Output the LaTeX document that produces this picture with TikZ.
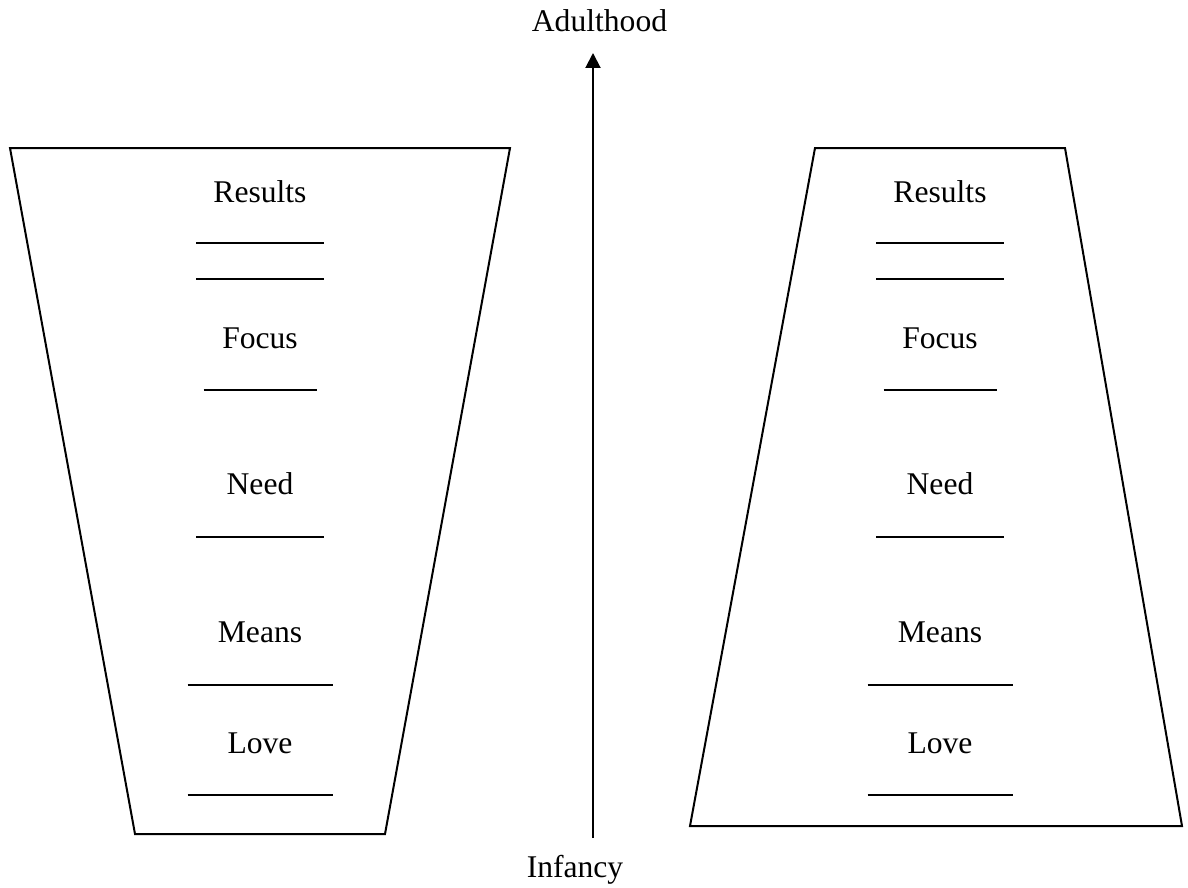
\documentclass[tikz,border=0pt]{standalone}
\usepackage{fontspec}
\setmainfont{Liberation Serif}
\usetikzlibrary{arrows.meta}

\tikzset{
  cup/.style={draw, line width=1pt, line join=miter},
  word/.style={anchor=base, inner sep=0pt, font=\fontsize{15.8}{19}\selectfont},
  blank/.style={line width=0.7pt}
}

\begin{document}
\begin{tikzpicture}[x=0.5pt, y=-0.5pt]
		\useasboundingbox (0,0) rectangle (1188,888);
		% the two vessels
		\draw[cup] (10,148) -- (510,148) -- (385,834) -- (135,834) -- cycle;
		\draw[cup] (815,148) -- (1065,148) -- (1182,826) -- (690,826) -- cycle;
		% time axis
		\node[word] (adult) at (599.5,32) {Adulthood};
		\node[word] (infant) at (575,877) {Infancy};
		\coordinate (bot) at (593,838);
		\coordinate (top) at (593,53);
		\draw[line width=1pt, -{Triangle[width=7.5pt,length=7.5pt]}] (bot) -- (top);
		% labels and blanks, left and right
		\foreach \s/\cx in {l/260, r/940} {
		\node[word] (\s res) at (\cx,202) {Results};
		\node[word] (\s foc) at (\cx,348) {Focus};
		\node[word] (\s need) at (\cx,494) {Need};
		\node[word] (\s mean) at (\cx,642) {Means};
		\node[word] (\s love) at (\cx,753) {Love};
		\draw[blank] (\cx-64,243) -- (\cx+64,243);
		\draw[blank] (\cx-64,279) -- (\cx+64,279);
		\draw[blank] (\cx-56.5,390) -- (\cx+56.5,390);
		\draw[blank] (\cx-64,537) -- (\cx+64,537);
		\draw[blank] (\cx-72.5,685) -- (\cx+72.5,685);
		\draw[blank] (\cx-72.5,795) -- (\cx+72.5,795);
		}
\end{tikzpicture}
\end{document}
